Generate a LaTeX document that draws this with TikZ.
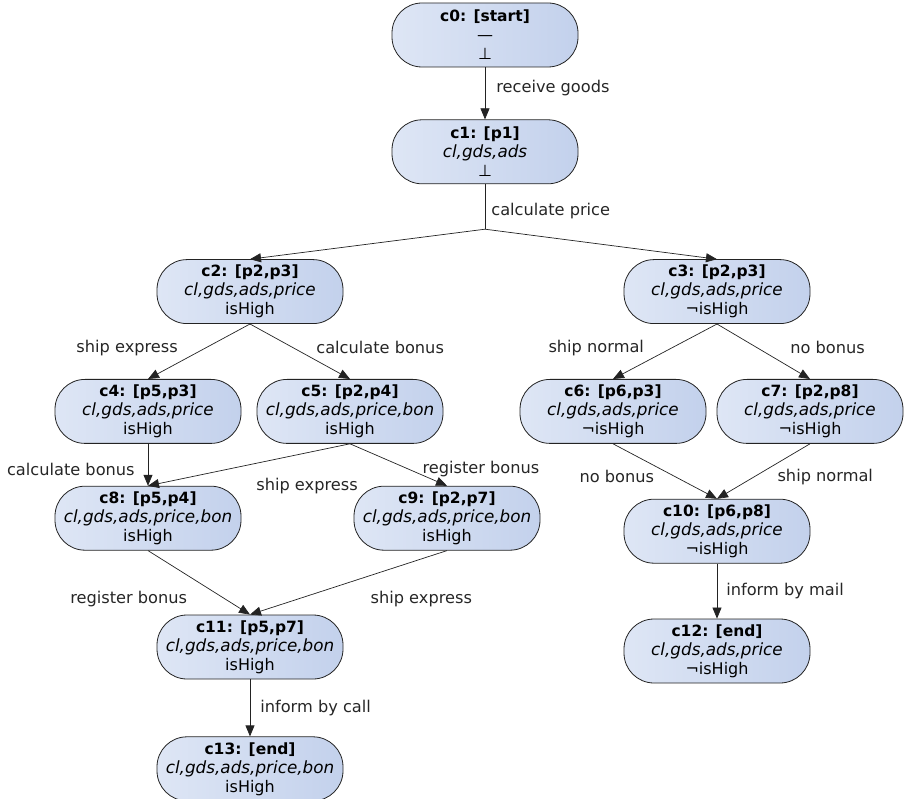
\documentclass[tikz,border=0pt]{standalone}
\usepackage{fontspec}
\setmainfont{DejaVu Sans}
\usetikzlibrary{positioning}
\usetikzlibrary{arrows.meta}
\definecolor{stateleft}{RGB}{222,230,245}
\definecolor{stateright}{RGB}{195,209,236}
\definecolor{linecol}{RGB}{35,35,35}
\newcommand{\cname}[1]{{\fontsize{15.5pt}{19pt}\selectfont\bfseries #1}}
\newcommand{\cvars}[1]{{\fontsize{16.8pt}{19pt}\selectfont\itshape #1}}

\begin{document}
\begin{tikzpicture}
                [
                    font=\fontsize{16pt}{19pt}\selectfont,
                    state/.style = {rectangle, draw=linecol, line width=0.8pt, left color=stateleft, right color=stateright, minimum width=186pt, minimum height=64pt, rounded corners=30pt, align=center, inner sep=2pt},
                    arrow/.style = {draw=linecol, line width=0.7pt, -{Triangle[length=11pt,width=9pt]}},
                    plain/.style = {draw=linecol, line width=0.7pt},
                    lbl/.style = {inner sep=1pt, text=black!85, font=\fontsize{16.2pt}{19pt}\selectfont}
                ]

                \useasboundingbox (0pt,0pt) rectangle (916pt,-799pt);

                \node (c0) [state] at (485pt,-35pt) {\cname{c0: [start]}\\—\\⊥};
                \node (c1) [state, below=52pt of c0] {\cname{c1: [p1]}\\\cvars{cl,gds,ads}\\⊥};
                \coordinate [below=45pt of c1] (split);

                \node (c2) [state, below=75pt of c1, xshift=-235pt] {\cname{c2: [p2,p3]}\\\cvars{cl,gds,ads,price}\\isHigh};
                \node (c3) [state, below=75pt of c1, xshift=+232pt] {\cname{c3: [p2,p3]}\\\cvars{cl,gds,ads,price}\\¬isHigh};

                \node (c4) [state, below=55pt of c2, xshift=-102pt] {\cname{c4: [p5,p3]}\\\cvars{cl,gds,ads,price}\\isHigh};
                \node (c5) [state, below=55pt of c2, xshift=+100pt] {\cname{c5: [p2,p4]}\\\cvars{cl,gds,ads,price,bon}\\isHigh};
                \node (c6) [state, below=55pt of c3, xshift=-104pt] {\cname{c6: [p6,p3]}\\\cvars{cl,gds,ads,price}\\¬isHigh};
                \node (c7) [state, below=55pt of c3, xshift=+93pt] {\cname{c7: [p2,p8]}\\\cvars{cl,gds,ads,price}\\¬isHigh};

                \node (c8) [state, below=42pt of c4] {\cname{c8: [p5,p4]}\\\cvars{cl,gds,ads,price,bon}\\isHigh};
                \node (c9) [state, below=42pt of c5, xshift=+97pt] {\cname{c9: [p2,p7]}\\\cvars{cl,gds,ads,price,bon}\\isHigh};
                \node (c10) [state, below=55pt of c6, xshift=+104pt] {\cname{c10: [p6,p8]}\\\cvars{cl,gds,ads,price}\\¬isHigh};

                \node (c11) [state, below=64pt of c8, xshift=+102pt] {\cname{c11: [p5,p7]}\\\cvars{cl,gds,ads,price,bon}\\isHigh};
                \node (c12) [state, below=55pt of c10] {\cname{c12: [end]}\\\cvars{cl,gds,ads,price}\\¬isHigh};
                \node (c13) [state, below=57pt of c11] {\cname{c13: [end]}\\\cvars{cl,gds,ads,price,bon}\\isHigh};

                \draw[arrow] (c0.south) -- node[lbl, pos=0.4, right=10pt] {receive goods} (c1.north);
                \draw[plain] (c1.south) -- node[lbl, pos=0.6, right=5pt] {calculate price} (split);
                \draw[arrow] (split) -- (c2.north);
                \draw[arrow] (split) -- (c3.north);

                \draw[arrow] (c2.south) -- node[lbl, pos=0.43, left=27pt] {ship express} (c4.north);
                \draw[arrow] (c2.south) -- node[lbl, pos=0.43, right=22pt] {calculate bonus} (c5.north);
                \draw[arrow] (c3.south) -- node[lbl, pos=0.43, left=27pt] {ship normal} (c6.north);
                \draw[arrow] (c3.south) -- node[lbl, pos=0.43, right=32pt] {no bonus} (c7.north);

                \draw[arrow] (c4.south) -- node[lbl, pos=0.6, left=12pt] {calculate bonus} (c8.north);
                \draw[arrow] (c5.south) -- node[lbl, midway, below right=12pt and 6pt] {ship express} (c8.north);
                \draw[arrow] (c5.south) -- node[lbl, pos=0.6, right=13pt] {register bonus} (c9.north);
                \draw[arrow] (c6.south) -- node[lbl, pos=0.6, left=20pt] {no bonus} (c10.north);
                \draw[arrow] (c7.south) -- node[lbl, pos=0.6, right=22pt] {ship normal} (c10.north);

                \draw[arrow] (c8.south) -- node[lbl, pos=0.75, left=36pt] {register bonus} (c11.north);
                \draw[arrow] (c9.south) -- node[lbl, pos=0.75, right=70pt] {ship express} (c11.north);
                \draw[arrow] (c10.south) -- node[lbl, pos=0.5, right=8pt] {inform by mail} (c12.north);
                \draw[arrow] (c11.south) -- node[lbl, pos=0.5, right=9pt] {inform by call} (c13.north);

            \end{tikzpicture}
\end{document}
